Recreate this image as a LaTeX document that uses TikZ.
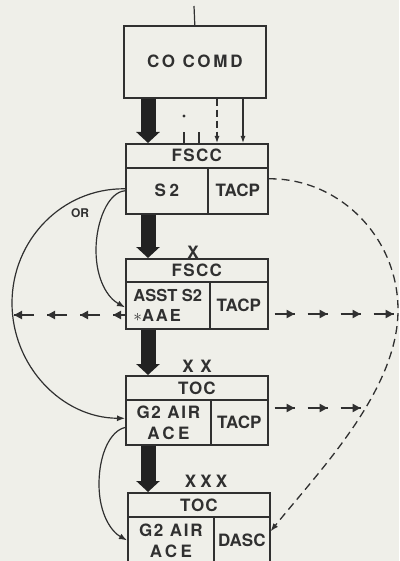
\documentclass[tikz,border=0pt]{standalone}
\usepackage{fontspec}
\setmainfont{TeX Gyre Heros}
\usetikzlibrary{arrows.meta,calc,decorations.markings}
\definecolor{paper}{RGB}{239,239,233}
\definecolor{ink}{RGB}{48,48,48}
\definecolor{fatink}{RGB}{34,34,34}
\newcommand{\spc}[2]{{\addfontfeature{LetterSpace=#1}#2}}

\begin{document}
\begin{tikzpicture}[x=1pt,y=-1pt,font=\fontsize{17}{20}\selectfont\bfseries,
  cellbox/.style={draw=ink,line width=1.6pt,inner sep=0pt,anchor=north west,align=center,text=ink},
  fat/.style={fatink,line width=15pt,-{Triangle[width=23pt,length=11pt]}},
  thinline/.style={ink,line width=1.2pt},
  dashrow/.style n args={2}{ink,line width=2.8pt,dash pattern=on 20pt off 13pt,dash phase=#1,
    postaction={decorate},decoration={markings,
      mark=between positions #2 and 1 step 33pt with {\arrow{Triangle[width=8pt,length=8pt]}}}}]
\clip (0,0) rectangle (399,561);
\fill[paper] (0,0) rectangle (399,561);

% command post
\node[cellbox,minimum width=142pt,minimum height=72pt] (comd) at (123,25) {\spc{16}{CO COMD}};
\coordinate (top) at (194,6);
\draw[thinline] (top) -- (comd.north);

% battalion
\node[cellbox,minimum width=142pt,minimum height=24pt] (fscc1) at (125,143) {\spc{8}{FSCC}};
\node[cellbox,minimum width=82pt,minimum height=46pt] (s2) at (125,167) {\spc{22}{S2}};
\node[cellbox,minimum width=60pt,minimum height=46pt] (tacp1) at (207,167) {TACP};

% brigade
\node[text=ink] (x1) at (193,252) {X};
\node[cellbox,minimum width=142pt,minimum height=23pt] (fscc2) at (125,258) {\spc{8}{FSCC}};
\node[cellbox,minimum width=84pt,minimum height=47pt,align=left,font=\fontsize{16.5}{19}\selectfont\bfseries] (asst) at (125,281) {ASST S2\\[1pt]$\ast$\spc{12}{AAE}};
\node[cellbox,minimum width=58pt,minimum height=47pt] (tacp2) at (209,281) {TACP};

% division
\node[text=ink] (x2) at (197,366) {\spc{40}{XX}};
\node[cellbox,minimum width=142pt,minimum height=24pt] (toc1) at (125,375) {\spc{6}{TOC}};
\node[cellbox,minimum width=85pt,minimum height=45pt] (air1) at (125,399) {\spc{10}{G2 AIR}\\[1pt]\spc{20}{ACE}};
\node[cellbox,minimum width=57pt,minimum height=45pt] (tacp3) at (210,399) {TACP};

% corps
\node[text=ink] (x3) at (206,481) {\spc{24}{XXX}};
\node[cellbox,minimum width=142pt,minimum height=24pt] (toc2) at (127,492) {\spc{6}{TOC}};
\node[cellbox,minimum width=86pt,minimum height=47pt] (air2) at (127,516) {\spc{10}{G2 AIR}\\[1pt]\spc{20}{ACE}};
\node[cellbox,minimum width=56pt,minimum height=47pt] (dasc) at (213,516) {DASC};

% chain of command
\coordinate (fx) at (148,0);
\draw[fat] (comd.south -| fx) -- (fscc1.north -| fx);
\draw[fat] (s2.south -| fx) -- (fscc2.north -| fx);
\draw[fat] (asst.south -| fx) -- (toc1.north -| fx);
\draw[fat] (air1.south -| fx) -- (toc2.north -| fx);

% links into the fscc
\coordinate (tk1) at (184,0);
\coordinate (tk2) at (199,0);
\coordinate (dx) at (217,0);
\coordinate (sx) at (243,0);
\fill[ink] (184,116) circle (1.7);
\draw[thinline] (fscc1.north -| tk1) -- ++(0,-11);
\draw[thinline] (fscc1.north -| tk2) -- ++(0,-11);
\draw[thinline,dash pattern=on 7pt off 4pt,-{Latex[length=7pt,width=5pt]}] (comd.south -| dx) -- (fscc1.north -| dx);
\draw[thinline,-{Latex[length=7pt,width=5pt]}] (comd.south -| sx) -- (fscc1.north -| sx);

% intelligence channels
\coordinate (wide) at (12,303);
\coordinate (narrow) at (96,250);
\coordinate (low) at (99,484);
\draw[thinline,-{Latex[length=8pt,width=6pt]}] ($(s2.west)+(0,-2)$) .. controls (62,188) and (12,240) .. (wide) .. controls (12,366) and (62,418) .. ($(air1.west)+(0,-4)$);
\draw[thinline,-{Latex[length=8pt,width=6pt]}] (s2.west) .. controls (108,192) and (96,222) .. (narrow) .. controls (96,280) and (108,298) .. ($(asst.west)+(0,2)$);
\node[font=\fontsize{12}{13}\selectfont\bfseries,text=ink] (or) at (80,213) {OR};
\draw[thinline,-{Latex[length=8pt,width=6pt]}] ($(air1.west)+(1,5)$) .. controls (110,430) and (99,455) .. (low) .. controls (99,515) and (112,532) .. (air2.west);

% air request net
\coordinate (bend) at (398,310);
\draw[ink,line width=1.3pt,dash pattern=on 8pt off 5pt,-{Latex[length=8pt,width=6pt]}] ($(tacp1.east)+(0,-12)$) .. controls (339,178) and (398,237) .. (bend) .. controls (398,390) and (320,470) .. ($(dasc.east)+(0,-9)$);

% warning nets
\coordinate (lfar) at (13,315);
\coordinate (rfar) at (394,314);
\coordinate (rmid) at (363,408);
\draw[dashrow={8pt}{12pt}] (asst.west |- lfar) -- (lfar);
\draw[dashrow={27pt}{26pt}] (tacp2.east |- rfar) -- (rfar);
\draw[dashrow={27pt}{26pt}] (tacp3.east |- rmid) -- (rmid);
\end{tikzpicture}
\end{document}
